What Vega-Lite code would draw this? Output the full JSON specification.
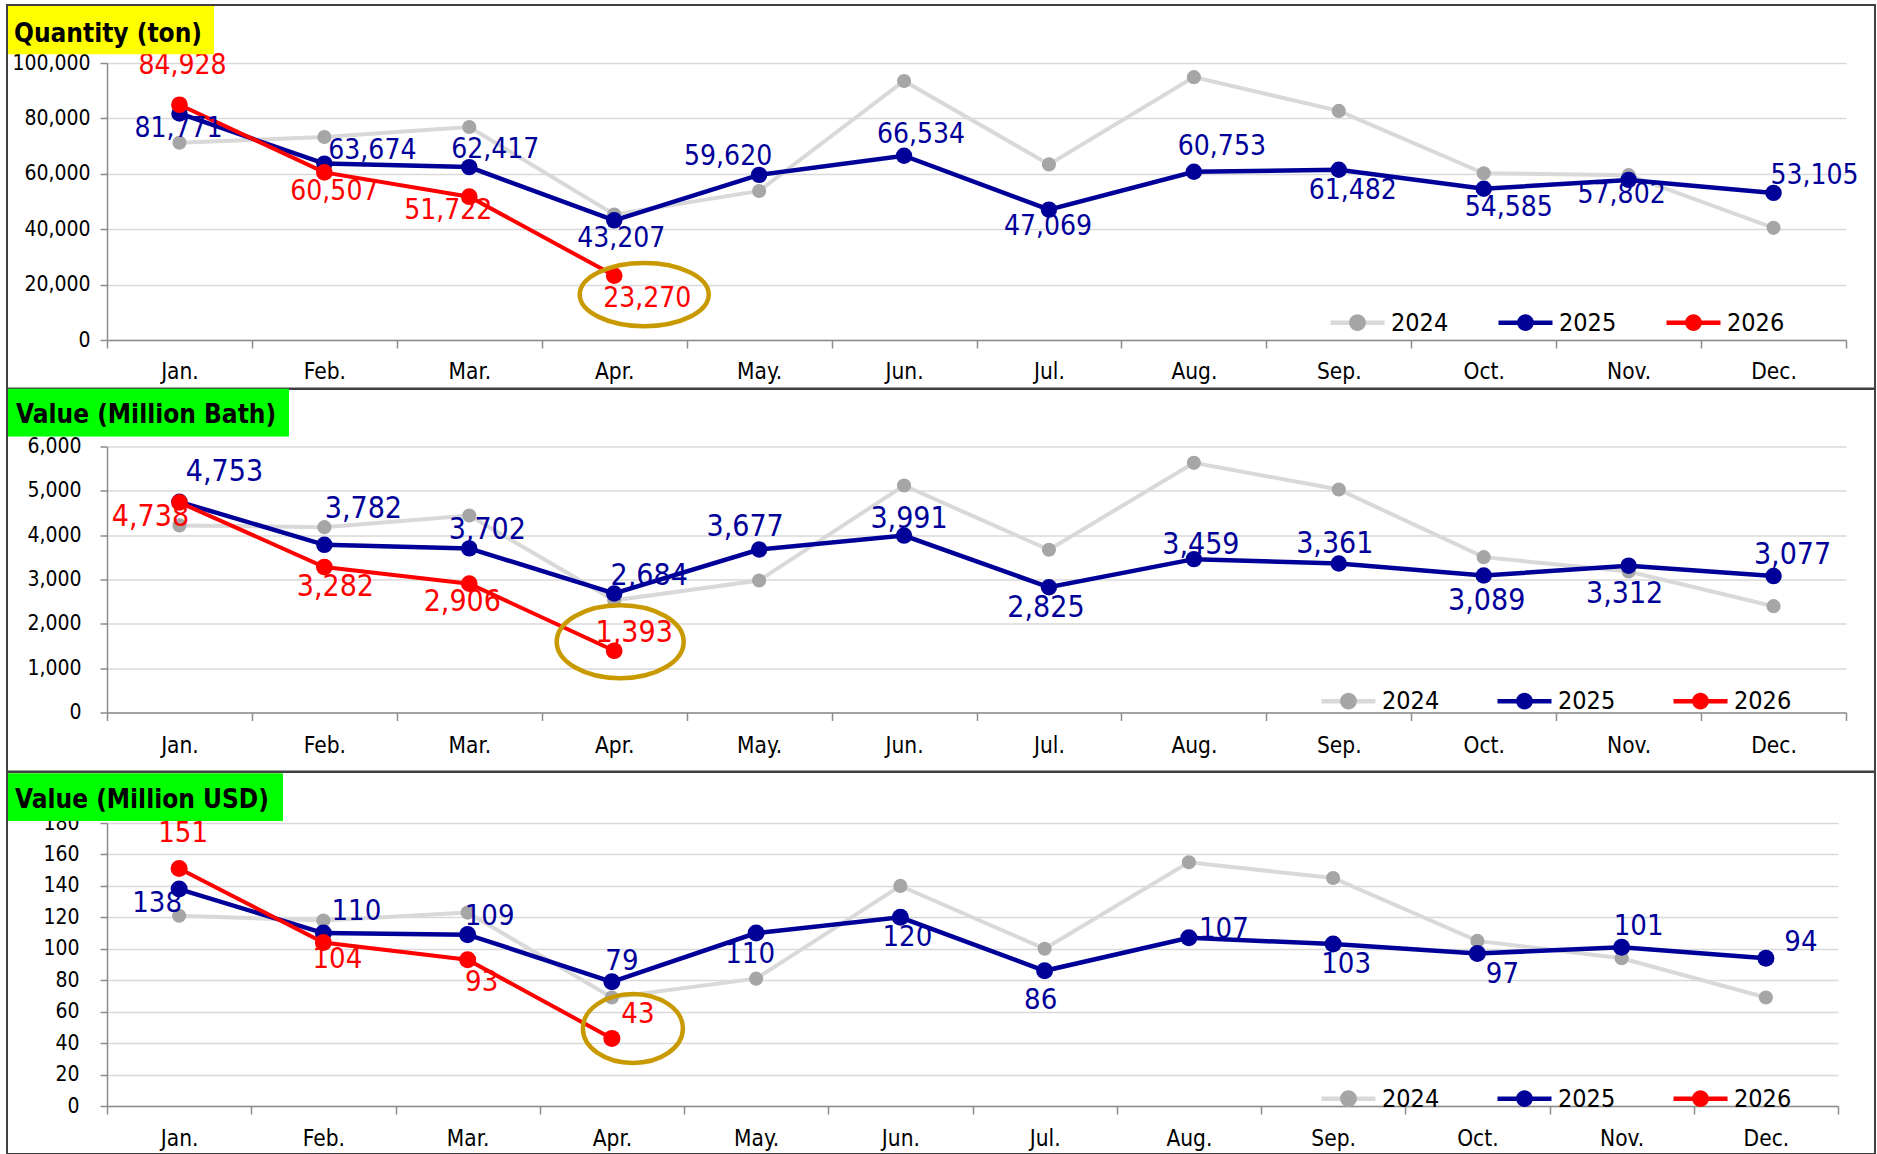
{
  "$schema": "https://vega.github.io/schema/vega-lite/v6.json",
  "padding": {"left": 5, "top": 3, "right": 2, "bottom": 0},
  "background": "white",
  "spacing": -3.5,
  "align": "none",
  "config": {
    "font": "DejaVu Sans Condensed",
    "view": {"stroke": null},
    "axis": {"labelFont": "DejaVu Sans Condensed", "labelColor": "#000000", "domainColor": "#8c8c8c", "domainWidth": 1.5, "tickColor": "#8c8c8c", "tickWidth": 1.5, "gridColor": "#d9d9d9", "gridWidth": 1.5},
    "legend": {"padding": 0, "labelFont": "DejaVu Sans Condensed", "labelColor": "#000000", "labelFontSize": 25, "direction": "horizontal", "orient": "none"}
  },
  "resolve": {"scale": {"stroke": "independent", "fill": "independent", "color": "independent"}},
  "datasets": {
    "d": [
      {"p": "q", "year": 2024, "m": 1, "v": 71200}, {"p": "q", "year": 2024, "m": 2, "v": 73300}, {"p": "q", "year": 2024, "m": 3, "v": 76900}, {"p": "q", "year": 2024, "m": 4, "v": 45300}, {"p": "q", "year": 2024, "m": 5, "v": 53800}, {"p": "q", "year": 2024, "m": 6, "v": 93500}, {"p": "q", "year": 2024, "m": 7, "v": 63400}, {"p": "q", "year": 2024, "m": 8, "v": 94900}, {"p": "q", "year": 2024, "m": 9, "v": 82700}, {"p": "q", "year": 2024, "m": 10, "v": 60200}, {"p": "q", "year": 2024, "m": 11, "v": 59500}, {"p": "q", "year": 2024, "m": 12, "v": 40500},
      {"p": "q", "year": 2025, "m": 1, "v": 81771}, {"p": "q", "year": 2025, "m": 2, "v": 63674}, {"p": "q", "year": 2025, "m": 3, "v": 62417}, {"p": "q", "year": 2025, "m": 4, "v": 43207}, {"p": "q", "year": 2025, "m": 5, "v": 59620}, {"p": "q", "year": 2025, "m": 6, "v": 66534}, {"p": "q", "year": 2025, "m": 7, "v": 47069}, {"p": "q", "year": 2025, "m": 8, "v": 60753}, {"p": "q", "year": 2025, "m": 9, "v": 61482}, {"p": "q", "year": 2025, "m": 10, "v": 54585}, {"p": "q", "year": 2025, "m": 11, "v": 57802}, {"p": "q", "year": 2025, "m": 12, "v": 53105},
      {"p": "q", "year": 2026, "m": 1, "v": 84928}, {"p": "q", "year": 2026, "m": 2, "v": 60507}, {"p": "q", "year": 2026, "m": 3, "v": 51722}, {"p": "q", "year": 2026, "m": 4, "v": 23270},
      {"p": "b", "year": 2024, "m": 1, "v": 4220}, {"p": "b", "year": 2024, "m": 2, "v": 4180}, {"p": "b", "year": 2024, "m": 3, "v": 4444}, {"p": "b", "year": 2024, "m": 4, "v": 2530}, {"p": "b", "year": 2024, "m": 5, "v": 2978}, {"p": "b", "year": 2024, "m": 6, "v": 5121}, {"p": "b", "year": 2024, "m": 7, "v": 3670}, {"p": "b", "year": 2024, "m": 8, "v": 5632}, {"p": "b", "year": 2024, "m": 9, "v": 5030}, {"p": "b", "year": 2024, "m": 10, "v": 3504}, {"p": "b", "year": 2024, "m": 11, "v": 3180}, {"p": "b", "year": 2024, "m": 12, "v": 2398},
      {"p": "b", "year": 2025, "m": 1, "v": 4753}, {"p": "b", "year": 2025, "m": 2, "v": 3782}, {"p": "b", "year": 2025, "m": 3, "v": 3702}, {"p": "b", "year": 2025, "m": 4, "v": 2684}, {"p": "b", "year": 2025, "m": 5, "v": 3677}, {"p": "b", "year": 2025, "m": 6, "v": 3991}, {"p": "b", "year": 2025, "m": 7, "v": 2825}, {"p": "b", "year": 2025, "m": 8, "v": 3459}, {"p": "b", "year": 2025, "m": 9, "v": 3361}, {"p": "b", "year": 2025, "m": 10, "v": 3089}, {"p": "b", "year": 2025, "m": 11, "v": 3312}, {"p": "b", "year": 2025, "m": 12, "v": 3077},
      {"p": "b", "year": 2026, "m": 1, "v": 4738}, {"p": "b", "year": 2026, "m": 2, "v": 3282}, {"p": "b", "year": 2026, "m": 3, "v": 2906}, {"p": "b", "year": 2026, "m": 4, "v": 1393},
      {"p": "u", "year": 2024, "m": 1, "v": 121}, {"p": "u", "year": 2024, "m": 2, "v": 118}, {"p": "u", "year": 2024, "m": 3, "v": 123}, {"p": "u", "year": 2024, "m": 4, "v": 69}, {"p": "u", "year": 2024, "m": 5, "v": 81}, {"p": "u", "year": 2024, "m": 6, "v": 140}, {"p": "u", "year": 2024, "m": 7, "v": 100}, {"p": "u", "year": 2024, "m": 8, "v": 155}, {"p": "u", "year": 2024, "m": 9, "v": 145}, {"p": "u", "year": 2024, "m": 10, "v": 105}, {"p": "u", "year": 2024, "m": 11, "v": 94}, {"p": "u", "year": 2024, "m": 12, "v": 69},
      {"p": "u", "year": 2025, "m": 1, "v": 138}, {"p": "u", "year": 2025, "m": 2, "v": 110}, {"p": "u", "year": 2025, "m": 3, "v": 109}, {"p": "u", "year": 2025, "m": 4, "v": 79}, {"p": "u", "year": 2025, "m": 5, "v": 110}, {"p": "u", "year": 2025, "m": 6, "v": 120}, {"p": "u", "year": 2025, "m": 7, "v": 86}, {"p": "u", "year": 2025, "m": 8, "v": 107}, {"p": "u", "year": 2025, "m": 9, "v": 103}, {"p": "u", "year": 2025, "m": 10, "v": 97}, {"p": "u", "year": 2025, "m": 11, "v": 101}, {"p": "u", "year": 2025, "m": 12, "v": 94},
      {"p": "u", "year": 2026, "m": 1, "v": 151}, {"p": "u", "year": 2026, "m": 2, "v": 104}, {"p": "u", "year": 2026, "m": 3, "v": 93}, {"p": "u", "year": 2026, "m": 4, "v": 43}
    ]
  },
  "vconcat": [
    {
      "width": 1739, "height": 277,
      "layer": [
        {"data": {"values": [{"k": "frame"}]}, "mark": {"type": "rect", "filled": false, "stroke": "#404040", "strokeWidth": 2},
          "encoding": {
            "x": {"datum": -0.1901, "type": "quantitative", "scale": {"domain": [0.5, 12.5], "nice": false, "zero": false}, "axis": {"title": null, "values": [0.5, 1.5, 2.5, 3.5, 4.5, 5.5, 6.5, 7.5, 8.5, 9.5, 10.5, 11.5, 12.5], "tickCount": 20, "labelExpr": "datum.value < 12 ? ['Jan.','Feb.','Mar.','Apr.','May.','Jun.','Jul.','Aug.','Sep.','Oct.','Nov.','Dec.'][floor(datum.value)] : ''", "labelOffset": 72.46, "labelFontSize": 22.5, "labelPadding": 12, "tickSize": 8, "grid": false, "labelFlush": false, "labelOverlap": false, "labelBound": false}},
            "x2": {"datum": 12.7},
            "y": {"datum": 120939, "type": "quantitative", "scale": {"domain": [0, 100000], "nice": false}, "axis": {"title": null, "values": [0, 20000, 40000, 60000, 80000, 100000], "tickCount": 12, "labelExpr": "format(datum.value, ',')", "labelFontSize": 21, "labelPadding": 10, "tickSize": 7, "grid": true, "labelOverlap": false, "labelFlush": false}},
            "y2": {"datum": -17690}}},
        {"data": {"name": "d"}, "transform": [{"filter": "datum.p == 'q' && datum.year == 2024"}], "mark": {"type": "line", "strokeWidth": 4},
          "encoding": {
            "x": {"field": "m", "type": "quantitative", "scale": {"domain": [0.5, 12.5], "nice": false, "zero": false}, "axis": {"title": null, "values": [0.5, 1.5, 2.5, 3.5, 4.5, 5.5, 6.5, 7.5, 8.5, 9.5, 10.5, 11.5, 12.5], "tickCount": 20, "labelExpr": "datum.value < 12 ? ['Jan.','Feb.','Mar.','Apr.','May.','Jun.','Jul.','Aug.','Sep.','Oct.','Nov.','Dec.'][floor(datum.value)] : ''", "labelOffset": 72.46, "labelFontSize": 22.5, "labelPadding": 12, "tickSize": 8, "grid": false, "labelFlush": false, "labelOverlap": false, "labelBound": false}},
            "y": {"field": "v", "type": "quantitative", "scale": {"domain": [0, 100000], "nice": false}, "axis": {"title": null, "values": [0, 20000, 40000, 60000, 80000, 100000], "tickCount": 12, "labelExpr": "format(datum.value, ',')", "labelFontSize": 21, "labelPadding": 10, "tickSize": 7, "grid": true, "labelOverlap": false, "labelFlush": false}},
            "stroke": {"field": "year", "type": "nominal", "scale": {"domain": [2024, 2025, 2026], "range": ["#d9d9d9", "#000099", "#ff0000"]}, "legend": {"title": null, "symbolType": "stroke", "symbolSize": 2916, "symbolStrokeWidth": 4.5, "symbolOpacity": 1, "labelOffset": 4, "columnPadding": 40, "legendX": 1221, "legendY": 230}}}},
        {"data": {"name": "d"}, "transform": [{"filter": "datum.p == 'q' && datum.year == 2024"}], "mark": {"type": "point", "filled": true, "opacity": 1, "size": 200, "strokeWidth": 0},
          "encoding": {"x": {"field": "m", "type": "quantitative"}, "y": {"field": "v", "type": "quantitative"},
            "fill": {"field": "year", "type": "nominal", "scale": {"domain": [2024, 2025, 2026, 2027], "range": ["#a6a6a6", "#000099", "#ff0000", "#ffffff"]}, "legend": {"title": null, "values": [2024, 2025, 2026], "symbolType": "M-1,0L1,0M-0.31,0C-0.31,-0.1712 -0.1712,-0.31 0,-0.31C0.1712,-0.31 0.31,-0.1712 0.31,0C0.31,0.1712 0.1712,0.31 0,0.31C-0.1712,0.31 -0.31,0.1712 -0.31,0Z", "symbolSize": 2916, "symbolStrokeWidth": 4.5, "symbolStrokeColor": "transparent", "symbolOpacity": 1, "labelOpacity": 0, "labelOffset": 4, "columnPadding": 40, "legendX": 1221, "legendY": 230}}}},
        {"data": {"name": "d"}, "transform": [{"filter": "datum.p == 'q' && datum.year == 2025"}], "mark": {"type": "line", "strokeWidth": 4.5},
          "encoding": {"x": {"field": "m", "type": "quantitative"}, "y": {"field": "v", "type": "quantitative"},
            "stroke": {"field": "year", "type": "nominal", "scale": {"domain": [2024, 2025, 2026], "range": ["#d9d9d9", "#000099", "#ff0000"]}, "legend": {"title": null, "symbolType": "stroke", "symbolSize": 2916, "symbolStrokeWidth": 4.5, "symbolOpacity": 1, "labelOffset": 4, "columnPadding": 40, "legendX": 1221, "legendY": 230}}}},
        {"data": {"name": "d"}, "transform": [{"filter": "datum.p == 'q' && datum.year == 2025"}], "mark": {"type": "point", "filled": true, "opacity": 1, "size": 270, "strokeWidth": 0},
          "encoding": {"x": {"field": "m", "type": "quantitative"}, "y": {"field": "v", "type": "quantitative"},
            "fill": {"field": "year", "type": "nominal", "scale": {"domain": [2024, 2025, 2026, 2027], "range": ["#a6a6a6", "#000099", "#ff0000", "#ffffff"]}, "legend": {"title": null, "values": [2024, 2025, 2026], "symbolType": "M-1,0L1,0M-0.31,0C-0.31,-0.1712 -0.1712,-0.31 0,-0.31C0.1712,-0.31 0.31,-0.1712 0.31,0C0.31,0.1712 0.1712,0.31 0,0.31C-0.1712,0.31 -0.31,0.1712 -0.31,0Z", "symbolSize": 2916, "symbolStrokeWidth": 4.5, "symbolStrokeColor": "transparent", "symbolOpacity": 1, "labelOpacity": 0, "labelOffset": 4, "columnPadding": 40, "legendX": 1221, "legendY": 230}}}},
        {"data": {"name": "d"}, "transform": [{"filter": "datum.p == 'q' && datum.year == 2026"}], "mark": {"type": "line", "strokeWidth": 4},
          "encoding": {"x": {"field": "m", "type": "quantitative"}, "y": {"field": "v", "type": "quantitative"},
            "stroke": {"field": "year", "type": "nominal", "scale": {"domain": [2024, 2025, 2026], "range": ["#d9d9d9", "#000099", "#ff0000"]}, "legend": {"title": null, "symbolType": "stroke", "symbolSize": 2916, "symbolStrokeWidth": 4.5, "symbolOpacity": 1, "labelOffset": 4, "columnPadding": 40, "legendX": 1221, "legendY": 230}}}},
        {"data": {"name": "d"}, "transform": [{"filter": "datum.p == 'q' && datum.year == 2026"}], "mark": {"type": "point", "filled": true, "opacity": 1, "size": 280, "strokeWidth": 0},
          "encoding": {"x": {"field": "m", "type": "quantitative"}, "y": {"field": "v", "type": "quantitative"},
            "fill": {"field": "year", "type": "nominal", "scale": {"domain": [2024, 2025, 2026, 2027], "range": ["#a6a6a6", "#000099", "#ff0000", "#ffffff"]}, "legend": {"title": null, "values": [2024, 2025, 2026], "symbolType": "M-1,0L1,0M-0.31,0C-0.31,-0.1712 -0.1712,-0.31 0,-0.31C0.1712,-0.31 0.31,-0.1712 0.31,0C0.31,0.1712 0.1712,0.31 0,0.31C-0.1712,0.31 -0.31,0.1712 -0.31,0Z", "symbolSize": 2916, "symbolStrokeWidth": 4.5, "symbolStrokeColor": "transparent", "symbolOpacity": 1, "labelOpacity": 0, "labelOffset": 4, "columnPadding": 40, "legendX": 1221, "legendY": 230}}}},
        {"data": {"name": "d"}, "transform": [{"filter": "datum.p == 'q' && datum.year >= 2025"}],
          "mark": {"type": "text", "fontSize": 28, "align": "center", "baseline": "middle",
            "dx": {"expr": "datum.year == 2025 ? [-1,48,26,7,-31,17,-1,28,14,25,-7,41][datum.m - 1] : [3,10,-21,33][datum.m - 1]"},
            "dy": {"expr": "datum.year == 2025 ? [16,-13,-17,19,-18,-21,17,-25,21,19,15,-17][datum.m - 1] : [-39,20,14,23][datum.m - 1]"}},
          "encoding": {"x": {"field": "m", "type": "quantitative"}, "y": {"field": "v", "type": "quantitative"}, "text": {"field": "v", "type": "quantitative", "format": ","}, "color": {"field": "year", "type": "nominal", "scale": {"domain": [2025, 2026], "range": ["#000099", "#ff0000"]}, "legend": null}}},
        {"data": {"name": "d"}, "transform": [{"filter": "datum.p == 'q' && datum.year == 2026 && datum.m == 4"}],
          "mark": {"type": "point", "shape": "M-1,0C-1,-0.2706 -0.5523,-0.49 0,-0.49C0.5523,-0.49 1,-0.2706 1,0C1,0.2706 0.5523,0.49 0,0.49C-0.5523,0.49 -1,0.2706 -1,0Z", "filled": false, "stroke": "#c99a00", "strokeWidth": 4.5, "size": 16641, "opacity": 1, "xOffset": 30, "yOffset": 19},
          "encoding": {"x": {"field": "m", "type": "quantitative"}, "y": {"field": "v", "type": "quantitative"}}},
        {"data": {"values": [{"t": "Quantity (ton)"}]}, "mark": {"type": "rect", "color": "#ffff00"},
          "encoding": {
            "x": {"datum": -0.1832, "type": "quantitative", "scale": {"domain": [0.5, 12.5], "nice": false, "zero": false}, "axis": {"title": null, "values": [0.5, 1.5, 2.5, 3.5, 4.5, 5.5, 6.5, 7.5, 8.5, 9.5, 10.5, 11.5, 12.5], "tickCount": 20, "labelExpr": "datum.value < 12 ? ['Jan.','Feb.','Mar.','Apr.','May.','Jun.','Jul.','Aug.','Sep.','Oct.','Nov.','Dec.'][floor(datum.value)] : ''", "labelOffset": 72.46, "labelFontSize": 22.5, "labelPadding": 12, "tickSize": 8, "grid": false, "labelFlush": false, "labelOverlap": false, "labelBound": false}},
            "x2": {"datum": 1.2384},
            "y": {"datum": 120578, "type": "quantitative", "scale": {"domain": [0, 100000], "nice": false}, "axis": {"title": null, "values": [0, 20000, 40000, 60000, 80000, 100000], "tickCount": 12, "labelExpr": "format(datum.value, ',')", "labelFontSize": 21, "labelPadding": 10, "tickSize": 7, "grid": true, "labelOverlap": false, "labelFlush": false}},
            "y2": {"datum": 103141}}},
        {"data": {"values": [{"t": "Quantity (ton)"}]}, "mark": {"type": "text", "align": "left", "baseline": "alphabetic", "fontSize": 26, "fontWeight": "bold", "color": "#000000"},
          "encoding": {
            "x": {"datum": -0.1417, "type": "quantitative", "scale": {"domain": [0.5, 12.5], "nice": false, "zero": false}, "axis": {"title": null, "values": [0.5, 1.5, 2.5, 3.5, 4.5, 5.5, 6.5, 7.5, 8.5, 9.5, 10.5, 11.5, 12.5], "tickCount": 20, "labelExpr": "datum.value < 12 ? ['Jan.','Feb.','Mar.','Apr.','May.','Jun.','Jul.','Aug.','Sep.','Oct.','Nov.','Dec.'][floor(datum.value)] : ''", "labelOffset": 72.46, "labelFontSize": 22.5, "labelPadding": 12, "tickSize": 8, "grid": false, "labelFlush": false, "labelOverlap": false, "labelBound": false}},
            "y": {"datum": 107690, "type": "quantitative", "scale": {"domain": [0, 100000], "nice": false}, "axis": {"title": null, "values": [0, 20000, 40000, 60000, 80000, 100000], "tickCount": 12, "labelExpr": "format(datum.value, ',')", "labelFontSize": 21, "labelPadding": 10, "tickSize": 7, "grid": true, "labelOverlap": false, "labelFlush": false}},
            "text": {"field": "t"}}}
      ]
    },
    {
      "width": 1739, "height": 266,
      "layer": [
        {"data": {"values": [{"k": "frame"}]}, "mark": {"type": "rect", "filled": false, "stroke": "#404040", "strokeWidth": 2},
          "encoding": {
            "x": {"datum": -0.1901, "type": "quantitative", "scale": {"domain": [0.5, 12.5], "nice": false, "zero": false}, "axis": {"title": null, "values": [0.5, 1.5, 2.5, 3.5, 4.5, 5.5, 6.5, 7.5, 8.5, 9.5, 10.5, 11.5, 12.5], "tickCount": 20, "labelExpr": "datum.value < 12 ? ['Jan.','Feb.','Mar.','Apr.','May.','Jun.','Jul.','Aug.','Sep.','Oct.','Nov.','Dec.'][floor(datum.value)] : ''", "labelOffset": 72.46, "labelFontSize": 22.5, "labelPadding": 14, "tickSize": 8, "grid": false, "labelFlush": false, "labelOverlap": false, "labelBound": false}},
            "x2": {"datum": 12.7},
            "y": {"datum": 7308, "type": "quantitative", "scale": {"domain": [0, 6000], "nice": false}, "axis": {"title": null, "values": [0, 1000, 2000, 3000, 4000, 5000, 6000], "tickCount": 12, "labelExpr": "format(datum.value, ',')", "labelFontSize": 21, "labelPadding": 19, "tickSize": 7, "grid": true, "labelOverlap": false, "labelFlush": false}},
            "y2": {"datum": -1331}}},
        {"data": {"name": "d"}, "transform": [{"filter": "datum.p == 'b' && datum.year == 2024"}], "mark": {"type": "line", "strokeWidth": 4},
          "encoding": {
            "x": {"field": "m", "type": "quantitative", "scale": {"domain": [0.5, 12.5], "nice": false, "zero": false}, "axis": {"title": null, "values": [0.5, 1.5, 2.5, 3.5, 4.5, 5.5, 6.5, 7.5, 8.5, 9.5, 10.5, 11.5, 12.5], "tickCount": 20, "labelExpr": "datum.value < 12 ? ['Jan.','Feb.','Mar.','Apr.','May.','Jun.','Jul.','Aug.','Sep.','Oct.','Nov.','Dec.'][floor(datum.value)] : ''", "labelOffset": 72.46, "labelFontSize": 22.5, "labelPadding": 14, "tickSize": 8, "grid": false, "labelFlush": false, "labelOverlap": false, "labelBound": false}},
            "y": {"field": "v", "type": "quantitative", "scale": {"domain": [0, 6000], "nice": false}, "axis": {"title": null, "values": [0, 1000, 2000, 3000, 4000, 5000, 6000], "tickCount": 12, "labelExpr": "format(datum.value, ',')", "labelFontSize": 21, "labelPadding": 19, "tickSize": 7, "grid": true, "labelOverlap": false, "labelFlush": false}},
            "stroke": {"field": "year", "type": "nominal", "scale": {"domain": [2024, 2025, 2026], "range": ["#d9d9d9", "#000099", "#ff0000"]}, "legend": {"title": null, "symbolType": "stroke", "symbolSize": 2916, "symbolStrokeWidth": 4.5, "symbolOpacity": 1, "labelOffset": 4, "columnPadding": 48, "legendX": 1212, "legendY": 225}}}},
        {"data": {"name": "d"}, "transform": [{"filter": "datum.p == 'b' && datum.year == 2024"}], "mark": {"type": "point", "filled": true, "opacity": 1, "size": 200, "strokeWidth": 0},
          "encoding": {"x": {"field": "m", "type": "quantitative"}, "y": {"field": "v", "type": "quantitative"},
            "fill": {"field": "year", "type": "nominal", "scale": {"domain": [2024, 2025, 2026, 2027], "range": ["#a6a6a6", "#000099", "#ff0000", "#ffffff"]}, "legend": {"title": null, "values": [2024, 2025, 2026], "symbolType": "M-1,0L1,0M-0.31,0C-0.31,-0.1712 -0.1712,-0.31 0,-0.31C0.1712,-0.31 0.31,-0.1712 0.31,0C0.31,0.1712 0.1712,0.31 0,0.31C-0.1712,0.31 -0.31,0.1712 -0.31,0Z", "symbolSize": 2916, "symbolStrokeWidth": 4.5, "symbolStrokeColor": "transparent", "symbolOpacity": 1, "labelOpacity": 0, "labelOffset": 4, "columnPadding": 48, "legendX": 1212, "legendY": 225}}}},
        {"data": {"name": "d"}, "transform": [{"filter": "datum.p == 'b' && datum.year == 2025"}], "mark": {"type": "line", "strokeWidth": 4.5},
          "encoding": {"x": {"field": "m", "type": "quantitative"}, "y": {"field": "v", "type": "quantitative"},
            "stroke": {"field": "year", "type": "nominal", "scale": {"domain": [2024, 2025, 2026], "range": ["#d9d9d9", "#000099", "#ff0000"]}, "legend": {"title": null, "symbolType": "stroke", "symbolSize": 2916, "symbolStrokeWidth": 4.5, "symbolOpacity": 1, "labelOffset": 4, "columnPadding": 48, "legendX": 1212, "legendY": 225}}}},
        {"data": {"name": "d"}, "transform": [{"filter": "datum.p == 'b' && datum.year == 2025"}], "mark": {"type": "point", "filled": true, "opacity": 1, "size": 270, "strokeWidth": 0},
          "encoding": {"x": {"field": "m", "type": "quantitative"}, "y": {"field": "v", "type": "quantitative"},
            "fill": {"field": "year", "type": "nominal", "scale": {"domain": [2024, 2025, 2026, 2027], "range": ["#a6a6a6", "#000099", "#ff0000", "#ffffff"]}, "legend": {"title": null, "values": [2024, 2025, 2026], "symbolType": "M-1,0L1,0M-0.31,0C-0.31,-0.1712 -0.1712,-0.31 0,-0.31C0.1712,-0.31 0.31,-0.1712 0.31,0C0.31,0.1712 0.1712,0.31 0,0.31C-0.1712,0.31 -0.31,0.1712 -0.31,0Z", "symbolSize": 2916, "symbolStrokeWidth": 4.5, "symbolStrokeColor": "transparent", "symbolOpacity": 1, "labelOpacity": 0, "labelOffset": 4, "columnPadding": 48, "legendX": 1212, "legendY": 225}}}},
        {"data": {"name": "d"}, "transform": [{"filter": "datum.p == 'b' && datum.year == 2026"}], "mark": {"type": "line", "strokeWidth": 4},
          "encoding": {"x": {"field": "m", "type": "quantitative"}, "y": {"field": "v", "type": "quantitative"},
            "stroke": {"field": "year", "type": "nominal", "scale": {"domain": [2024, 2025, 2026], "range": ["#d9d9d9", "#000099", "#ff0000"]}, "legend": {"title": null, "symbolType": "stroke", "symbolSize": 2916, "symbolStrokeWidth": 4.5, "symbolOpacity": 1, "labelOffset": 4, "columnPadding": 48, "legendX": 1212, "legendY": 225}}}},
        {"data": {"name": "d"}, "transform": [{"filter": "datum.p == 'b' && datum.year == 2026"}], "mark": {"type": "point", "filled": true, "opacity": 1, "size": 280, "strokeWidth": 0},
          "encoding": {"x": {"field": "m", "type": "quantitative"}, "y": {"field": "v", "type": "quantitative"},
            "fill": {"field": "year", "type": "nominal", "scale": {"domain": [2024, 2025, 2026, 2027], "range": ["#a6a6a6", "#000099", "#ff0000", "#ffffff"]}, "legend": {"title": null, "values": [2024, 2025, 2026], "symbolType": "M-1,0L1,0M-0.31,0C-0.31,-0.1712 -0.1712,-0.31 0,-0.31C0.1712,-0.31 0.31,-0.1712 0.31,0C0.31,0.1712 0.1712,0.31 0,0.31C-0.1712,0.31 -0.31,0.1712 -0.31,0Z", "symbolSize": 2916, "symbolStrokeWidth": 4.5, "symbolStrokeColor": "transparent", "symbolOpacity": 1, "labelOpacity": 0, "labelOffset": 4, "columnPadding": 48, "legendX": 1212, "legendY": 225}}}},
        {"data": {"name": "d"}, "transform": [{"filter": "datum.p == 'b' && datum.year >= 2025"}],
          "mark": {"type": "text", "fontSize": 30, "align": "center", "baseline": "middle",
            "dx": {"expr": "datum.year == 2025 ? [45,39,18,35,-14,5,-3,7,-4,3,-4,19][datum.m - 1] : [-29,11,-7,20][datum.m - 1]"},
            "dy": {"expr": "datum.year == 2025 ? [-30,-36,-18,-18,-22,-17,21,-14,-19,25,28,-21][datum.m - 1] : [15,20,18,-18][datum.m - 1]"}},
          "encoding": {"x": {"field": "m", "type": "quantitative"}, "y": {"field": "v", "type": "quantitative"}, "text": {"field": "v", "type": "quantitative", "format": ","}, "color": {"field": "year", "type": "nominal", "scale": {"domain": [2025, 2026], "range": ["#000099", "#ff0000"]}, "legend": null}}},
        {"data": {"name": "d"}, "transform": [{"filter": "datum.p == 'b' && datum.year == 2026 && datum.m == 4"}],
          "mark": {"type": "point", "shape": "M-1,0C-1,-0.3176 -0.5523,-0.575 0,-0.575C0.5523,-0.575 1,-0.3176 1,0C1,0.3176 0.5523,0.575 0,0.575C-0.5523,0.575 -1,0.3176 -1,0Z", "filled": false, "stroke": "#c99a00", "strokeWidth": 4.5, "size": 16129, "opacity": 1, "xOffset": 6, "yOffset": -9},
          "encoding": {"x": {"field": "m", "type": "quantitative"}, "y": {"field": "v", "type": "quantitative"}}},
        {"data": {"values": [{"t": "Value (Million Bath)"}]}, "mark": {"type": "rect", "color": "#00ff00"},
          "encoding": {
            "x": {"datum": -0.1832, "type": "quantitative", "scale": {"domain": [0.5, 12.5], "nice": false, "zero": false}, "axis": {"title": null, "values": [0.5, 1.5, 2.5, 3.5, 4.5, 5.5, 6.5, 7.5, 8.5, 9.5, 10.5, 11.5, 12.5], "tickCount": 20, "labelExpr": "datum.value < 12 ? ['Jan.','Feb.','Mar.','Apr.','May.','Jun.','Jul.','Aug.','Sep.','Oct.','Nov.','Dec.'][floor(datum.value)] : ''", "labelOffset": 72.46, "labelFontSize": 22.5, "labelPadding": 14, "tickSize": 8, "grid": false, "labelFlush": false, "labelOverlap": false, "labelBound": false}},
            "x2": {"datum": 1.7559},
            "y": {"datum": 7301, "type": "quantitative", "scale": {"domain": [0, 6000], "nice": false}, "axis": {"title": null, "values": [0, 1000, 2000, 3000, 4000, 5000, 6000], "tickCount": 12, "labelExpr": "format(datum.value, ',')", "labelFontSize": 21, "labelPadding": 19, "tickSize": 7, "grid": true, "labelOverlap": false, "labelFlush": false}},
            "y2": {"datum": 6226}}},
        {"data": {"values": [{"t": "Value (Million Bath)"}]}, "mark": {"type": "text", "align": "left", "baseline": "alphabetic", "fontSize": 26, "fontWeight": "bold", "color": "#000000"},
          "encoding": {
            "x": {"datum": -0.1279, "type": "quantitative", "scale": {"domain": [0.5, 12.5], "nice": false, "zero": false}, "axis": {"title": null, "values": [0.5, 1.5, 2.5, 3.5, 4.5, 5.5, 6.5, 7.5, 8.5, 9.5, 10.5, 11.5, 12.5], "tickCount": 20, "labelExpr": "datum.value < 12 ? ['Jan.','Feb.','Mar.','Apr.','May.','Jun.','Jul.','Aug.','Sep.','Oct.','Nov.','Dec.'][floor(datum.value)] : ''", "labelOffset": 72.46, "labelFontSize": 22.5, "labelPadding": 14, "tickSize": 8, "grid": false, "labelFlush": false, "labelOverlap": false, "labelBound": false}},
            "y": {"datum": 6526, "type": "quantitative", "scale": {"domain": [0, 6000], "nice": false}, "axis": {"title": null, "values": [0, 1000, 2000, 3000, 4000, 5000, 6000], "tickCount": 12, "labelExpr": "format(datum.value, ',')", "labelFontSize": 21, "labelPadding": 19, "tickSize": 7, "grid": true, "labelOverlap": false, "labelFlush": false}},
            "text": {"field": "t"}}}
      ]
    },
    {
      "width": 1731, "height": 283,
      "layer": [
        {"data": {"values": [{"k": "frame"}]}, "mark": {"type": "rect", "filled": false, "stroke": "#404040", "strokeWidth": 2},
          "encoding": {
            "x": {"datum": -0.1932, "type": "quantitative", "scale": {"domain": [0.5, 12.5], "nice": false, "zero": false}, "axis": {"title": null, "values": [0.5, 1.5, 2.5, 3.5, 4.5, 5.5, 6.5, 7.5, 8.5, 9.5, 10.5, 11.5, 12.5], "tickCount": 20, "labelExpr": "datum.value < 12 ? ['Jan.','Feb.','Mar.','Apr.','May.','Jun.','Jul.','Aug.','Sep.','Oct.','Nov.','Dec.'][floor(datum.value)] : ''", "labelOffset": 72.125, "labelFontSize": 22.5, "labelPadding": 13, "tickSize": 8, "grid": false, "labelFlush": false, "labelOverlap": false, "labelBound": false}},
            "x2": {"datum": 12.7565},
            "y": {"datum": 212.44, "type": "quantitative", "scale": {"domain": [0, 180], "nice": false}, "axis": {"title": null, "values": [0, 20, 40, 60, 80, 100, 120, 140, 160, 180], "tickCount": 20, "labelExpr": "format(datum.value, ',')", "labelFontSize": 21, "labelPadding": 21, "tickSize": 7, "grid": true, "labelOverlap": false, "labelFlush": false}},
            "y2": {"datum": -30.5}}},
        {"data": {"name": "d"}, "transform": [{"filter": "datum.p == 'u' && datum.year == 2024"}], "mark": {"type": "line", "strokeWidth": 4},
          "encoding": {
            "x": {"field": "m", "type": "quantitative", "scale": {"domain": [0.5, 12.5], "nice": false, "zero": false}, "axis": {"title": null, "values": [0.5, 1.5, 2.5, 3.5, 4.5, 5.5, 6.5, 7.5, 8.5, 9.5, 10.5, 11.5, 12.5], "tickCount": 20, "labelExpr": "datum.value < 12 ? ['Jan.','Feb.','Mar.','Apr.','May.','Jun.','Jul.','Aug.','Sep.','Oct.','Nov.','Dec.'][floor(datum.value)] : ''", "labelOffset": 72.125, "labelFontSize": 22.5, "labelPadding": 13, "tickSize": 8, "grid": false, "labelFlush": false, "labelOverlap": false, "labelBound": false}},
            "y": {"field": "v", "type": "quantitative", "scale": {"domain": [0, 180], "nice": false}, "axis": {"title": null, "values": [0, 20, 40, 60, 80, 100, 120, 140, 160, 180], "tickCount": 20, "labelExpr": "format(datum.value, ',')", "labelFontSize": 21, "labelPadding": 21, "tickSize": 7, "grid": true, "labelOverlap": false, "labelFlush": false}},
            "stroke": {"field": "year", "type": "nominal", "scale": {"domain": [2024, 2025, 2026], "range": ["#d9d9d9", "#000099", "#ff0000"]}, "legend": {"title": null, "symbolType": "stroke", "symbolSize": 2916, "symbolStrokeWidth": 4.5, "symbolOpacity": 1, "labelOffset": 4, "columnPadding": 48, "legendX": 1212, "legendY": 246}}}},
        {"data": {"name": "d"}, "transform": [{"filter": "datum.p == 'u' && datum.year == 2024"}], "mark": {"type": "point", "filled": true, "opacity": 1, "size": 200, "strokeWidth": 0},
          "encoding": {"x": {"field": "m", "type": "quantitative"}, "y": {"field": "v", "type": "quantitative"},
            "fill": {"field": "year", "type": "nominal", "scale": {"domain": [2024, 2025, 2026, 2027], "range": ["#a6a6a6", "#000099", "#ff0000", "#ffffff"]}, "legend": {"title": null, "values": [2024, 2025, 2026], "symbolType": "M-1,0L1,0M-0.31,0C-0.31,-0.1712 -0.1712,-0.31 0,-0.31C0.1712,-0.31 0.31,-0.1712 0.31,0C0.31,0.1712 0.1712,0.31 0,0.31C-0.1712,0.31 -0.31,0.1712 -0.31,0Z", "symbolSize": 2916, "symbolStrokeWidth": 4.5, "symbolStrokeColor": "transparent", "symbolOpacity": 1, "labelOpacity": 0, "labelOffset": 4, "columnPadding": 48, "legendX": 1212, "legendY": 246}}}},
        {"data": {"name": "d"}, "transform": [{"filter": "datum.p == 'u' && datum.year == 2025"}], "mark": {"type": "line", "strokeWidth": 4.5},
          "encoding": {"x": {"field": "m", "type": "quantitative"}, "y": {"field": "v", "type": "quantitative"},
            "stroke": {"field": "year", "type": "nominal", "scale": {"domain": [2024, 2025, 2026], "range": ["#d9d9d9", "#000099", "#ff0000"]}, "legend": {"title": null, "symbolType": "stroke", "symbolSize": 2916, "symbolStrokeWidth": 4.5, "symbolOpacity": 1, "labelOffset": 4, "columnPadding": 48, "legendX": 1212, "legendY": 246}}}},
        {"data": {"name": "d"}, "transform": [{"filter": "datum.p == 'u' && datum.year == 2025"}], "mark": {"type": "point", "filled": true, "opacity": 1, "size": 290, "strokeWidth": 0},
          "encoding": {"x": {"field": "m", "type": "quantitative"}, "y": {"field": "v", "type": "quantitative"},
            "fill": {"field": "year", "type": "nominal", "scale": {"domain": [2024, 2025, 2026, 2027], "range": ["#a6a6a6", "#000099", "#ff0000", "#ffffff"]}, "legend": {"title": null, "values": [2024, 2025, 2026], "symbolType": "M-1,0L1,0M-0.31,0C-0.31,-0.1712 -0.1712,-0.31 0,-0.31C0.1712,-0.31 0.31,-0.1712 0.31,0C0.31,0.1712 0.1712,0.31 0,0.31C-0.1712,0.31 -0.31,0.1712 -0.31,0Z", "symbolSize": 2916, "symbolStrokeWidth": 4.5, "symbolStrokeColor": "transparent", "symbolOpacity": 1, "labelOpacity": 0, "labelOffset": 4, "columnPadding": 48, "legendX": 1212, "legendY": 246}}}},
        {"data": {"name": "d"}, "transform": [{"filter": "datum.p == 'u' && datum.year == 2026"}], "mark": {"type": "line", "strokeWidth": 4},
          "encoding": {"x": {"field": "m", "type": "quantitative"}, "y": {"field": "v", "type": "quantitative"},
            "stroke": {"field": "year", "type": "nominal", "scale": {"domain": [2024, 2025, 2026], "range": ["#d9d9d9", "#000099", "#ff0000"]}, "legend": {"title": null, "symbolType": "stroke", "symbolSize": 2916, "symbolStrokeWidth": 4.5, "symbolOpacity": 1, "labelOffset": 4, "columnPadding": 48, "legendX": 1212, "legendY": 246}}}},
        {"data": {"name": "d"}, "transform": [{"filter": "datum.p == 'u' && datum.year == 2026"}], "mark": {"type": "point", "filled": true, "opacity": 1, "size": 290, "strokeWidth": 0},
          "encoding": {"x": {"field": "m", "type": "quantitative"}, "y": {"field": "v", "type": "quantitative"},
            "fill": {"field": "year", "type": "nominal", "scale": {"domain": [2024, 2025, 2026, 2027], "range": ["#a6a6a6", "#000099", "#ff0000", "#ffffff"]}, "legend": {"title": null, "values": [2024, 2025, 2026], "symbolType": "M-1,0L1,0M-0.31,0C-0.31,-0.1712 -0.1712,-0.31 0,-0.31C0.1712,-0.31 0.31,-0.1712 0.31,0C0.31,0.1712 0.1712,0.31 0,0.31C-0.1712,0.31 -0.31,0.1712 -0.31,0Z", "symbolSize": 2916, "symbolStrokeWidth": 4.5, "symbolStrokeColor": "transparent", "symbolOpacity": 1, "labelOpacity": 0, "labelOffset": 4, "columnPadding": 48, "legendX": 1212, "legendY": 246}}}},
        {"data": {"name": "d"}, "transform": [{"filter": "datum.p == 'u' && datum.year >= 2025"}],
          "mark": {"type": "text", "fontSize": 29, "align": "center", "baseline": "middle",
            "dx": {"expr": "datum.year == 2025 ? [-22,33,22,10,-6,7,-4,35,13,25,17,35][datum.m - 1] : [4,14,14,26][datum.m - 1]"},
            "dy": {"expr": "datum.year == 2025 ? [14,-22,-19,-21,21,20,29,-9,20,21,-21,-16][datum.m - 1] : [-36,17,22,-24][datum.m - 1]"}},
          "encoding": {"x": {"field": "m", "type": "quantitative"}, "y": {"field": "v", "type": "quantitative"}, "text": {"field": "v", "type": "quantitative", "format": ","}, "color": {"field": "year", "type": "nominal", "scale": {"domain": [2025, 2026], "range": ["#000099", "#ff0000"]}, "legend": null}}},
        {"data": {"name": "d"}, "transform": [{"filter": "datum.p == 'u' && datum.year == 2026 && datum.m == 4"}],
          "mark": {"type": "point", "shape": "M-1,0C-1,-0.3811 -0.5523,-0.69 0,-0.69C0.5523,-0.69 1,-0.3811 1,0C1,0.3811 0.5523,0.69 0,0.69C-0.5523,0.69 -1,0.3811 -1,0Z", "filled": false, "stroke": "#c99a00", "strokeWidth": 4.5, "size": 10000, "opacity": 1, "xOffset": 21, "yOffset": -10},
          "encoding": {"x": {"field": "m", "type": "quantitative"}, "y": {"field": "v", "type": "quantitative"}}},
        {"data": {"values": [{"t": "Value (Million USD)"}]}, "mark": {"type": "rect", "color": "#00ff00"},
          "encoding": {
            "x": {"datum": -0.1863, "type": "quantitative", "scale": {"domain": [0.5, 12.5], "nice": false, "zero": false}, "axis": {"title": null, "values": [0.5, 1.5, 2.5, 3.5, 4.5, 5.5, 6.5, 7.5, 8.5, 9.5, 10.5, 11.5, 12.5], "tickCount": 20, "labelExpr": "datum.value < 12 ? ['Jan.','Feb.','Mar.','Apr.','May.','Jun.','Jul.','Aug.','Sep.','Oct.','Nov.','Dec.'][floor(datum.value)] : ''", "labelOffset": 72.125, "labelFontSize": 22.5, "labelPadding": 13, "tickSize": 8, "grid": false, "labelFlush": false, "labelOverlap": false, "labelBound": false}},
            "x2": {"datum": 1.7201},
            "y": {"datum": 211.6, "type": "quantitative", "scale": {"domain": [0, 180], "nice": false}, "axis": {"title": null, "values": [0, 20, 40, 60, 80, 100, 120, 140, 160, 180], "tickCount": 20, "labelExpr": "format(datum.value, ',')", "labelFontSize": 21, "labelPadding": 21, "tickSize": 7, "grid": true, "labelOverlap": false, "labelFlush": false}},
            "y2": {"datum": 181.3}}},
        {"data": {"values": [{"t": "Value (Million USD)"}]}, "mark": {"type": "text", "align": "left", "baseline": "alphabetic", "fontSize": 26, "fontWeight": "bold", "color": "#000000"},
          "encoding": {
            "x": {"datum": -0.1378, "type": "quantitative", "scale": {"domain": [0.5, 12.5], "nice": false, "zero": false}, "axis": {"title": null, "values": [0.5, 1.5, 2.5, 3.5, 4.5, 5.5, 6.5, 7.5, 8.5, 9.5, 10.5, 11.5, 12.5], "tickCount": 20, "labelExpr": "datum.value < 12 ? ['Jan.','Feb.','Mar.','Apr.','May.','Jun.','Jul.','Aug.','Sep.','Oct.','Nov.','Dec.'][floor(datum.value)] : ''", "labelOffset": 72.125, "labelFontSize": 22.5, "labelPadding": 13, "tickSize": 8, "grid": false, "labelFlush": false, "labelOverlap": false, "labelBound": false}},
            "y": {"datum": 189.7, "type": "quantitative", "scale": {"domain": [0, 180], "nice": false}, "axis": {"title": null, "values": [0, 20, 40, 60, 80, 100, 120, 140, 160, 180], "tickCount": 20, "labelExpr": "format(datum.value, ',')", "labelFontSize": 21, "labelPadding": 21, "tickSize": 7, "grid": true, "labelOverlap": false, "labelFlush": false}},
            "text": {"field": "t"}}}
      ]
    }
  ]
}
